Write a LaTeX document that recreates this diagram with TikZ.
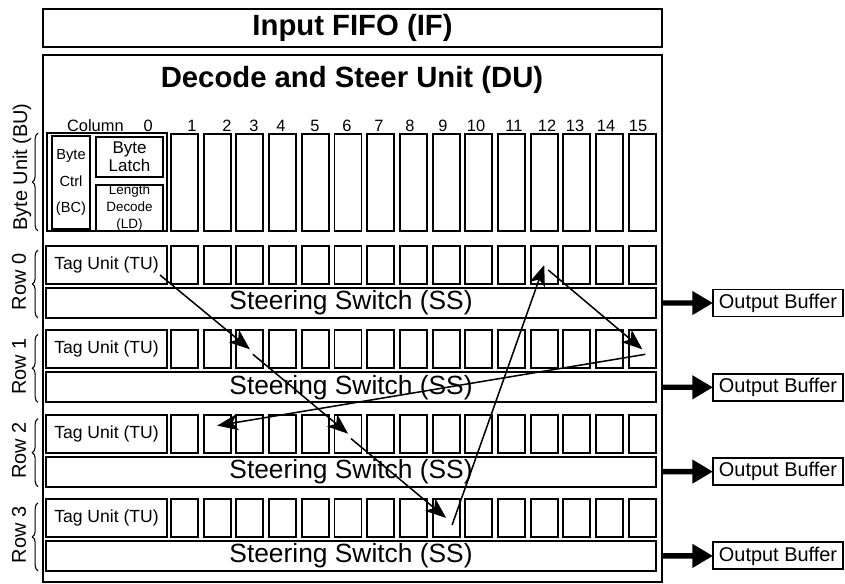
\documentclass[tikz,border=0pt]{standalone}
\usepackage{fontspec}
\setmainfont{Liberation Sans}
\usetikzlibrary{arrows.meta,decorations.pathreplacing}

\begin{document}
\begin{tikzpicture}[x=0.03cm, y=-0.03cm,
    box/.style={draw, line width=1.6pt, inner sep=0pt, outer sep=0pt},
    cell/.style={box, anchor=north west, minimum width=0.81cm},
    lbl/.style={font=\fontsize{14}{16}\selectfont, anchor=base},
    rowlbl/.style={font=\fontsize{17}{20}\selectfont, rotate=90},
    brc/.style={decorate, decoration={brace, amplitude=0.17cm}, line width=0.9pt},
    hop/.style={-{Stealth[length=0.62cm, width=0.48cm, inset=0.16cm]}, line width=1.3pt},
    outarr/.style={-{Triangle[length=0.62cm, width=0.68cm]}, line width=0.16cm}]
  \useasboundingbox (0,0) rectangle (845,583);

  % input fifo and decode unit
  \node[box, anchor=north west, minimum width=18.57cm, minimum height=1.14cm,
        font=\bfseries\fontsize{25}{30}\selectfont] (inff) at (43,9) {Input FIFO (IF)};
  \node[box, anchor=north west, minimum width=18.57cm, minimum height=15.81cm] (du) at (43,55) {};
  \node[font=\bfseries\fontsize{25}{30}\selectfont] (dutitle) at (352,80) {Decode and Steer Unit (DU)};

  % byte unit
  \node[box, anchor=north west, minimum width=3.6cm, minimum height=2.94cm] (bu0) at (47,133) {};
  \node[box, anchor=north west, minimum width=1.14cm, minimum height=2.79cm, align=center,
        font=\fontsize{12.5}{23}\selectfont] (bc) at (52,136) {Byte\\Ctrl\\(BC)};
  \node[box, anchor=north west, minimum width=2.01cm, minimum height=1.2cm, align=center,
        font=\fontsize{14.5}{15.5}\selectfont] (bl) at (96,137) {Byte\\Latch};
  \node[box, anchor=north west, minimum width=2.01cm, minimum height=1.32cm, align=center,
        font=\fontsize{11.5}{14.5}\selectfont] (ld) at (96,185) {Length\\Decode\\(LD)};
  \foreach \i in {1,...,15}
    \node[cell, minimum height=2.91cm] (b\i) at ({171+(\i-1)*32.7},134) {};
  \node[lbl, anchor=base west] (col0) at (63,131) {Column\hspace{17pt}0};
  \foreach \i/\x in {1/192,2/227,3/254,4/281,5/315,6/347,7/379,8/410,9/443,10/476,11/514,12/547,13/575,14/606,15/638}
    \node[lbl] (col\i) at (\x,131) {\i};
  \draw[brc] (38,231) -- (38,133);
  \node[rowlbl] (bulbl) at (22,167) {Byte Unit (BU)};

  % rows
  \foreach \k in {0,...,3}{
    \pgfmathsetmacro\rt{246+84.3*\k}
    \node[box, anchor=north west, minimum width=3.63cm, minimum height=1.14cm,
          font=\fontsize{15}{17}\selectfont] (tu\k) at (46,\rt) {Tag Unit (TU)};
    \foreach \i in {1,...,15}
      \node[cell, minimum height=1.14cm] (c\k-\i) at ({171+(\i-1)*32.7},\rt) {};
    \node[box, anchor=north west, minimum width=18.3cm, minimum height=0.9cm,
          font=\fontsize{22.5}{26}\selectfont] (ss\k) at (46,\rt+42) {Steering Switch (SS)};
    \node[box, anchor=west, minimum width=3.9cm, minimum height=0.81cm,
          font=\fontsize{17}{20}\selectfont] (ob\k) at (713,\rt+57) {Output Buffer};
    \draw[outarr] (du.east |- ss\k) -- (ob\k);
    \draw[brc] (38,\rt+72) -- (38,\rt+4);
    \node[rowlbl] (row\k) at (19,\rt+36) {Row \k};
  }

  % steering path
  \draw[hop] ([shift={(-7,-9)}]tu0.south east) -- (c1-3.center);
  \draw[hop] ([shift={(3,5)}]c1-3.center) -- (c2-6.center);
  \draw[hop] ([shift={(3,5)}]c2-6.center) -- (c3-9.center);
  \draw[hop] ([shift={(6,7)}]c3-9.center) -- (c0-12.center);
  \draw[hop] ([shift={(4,5)}]c0-12.center) -- (c1-15.center);
  \draw[hop] ([shift={(3,5)}]c1-15.center) -- ([shift={(0,-8)}]c2-2.center);
\end{tikzpicture}
\end{document}
